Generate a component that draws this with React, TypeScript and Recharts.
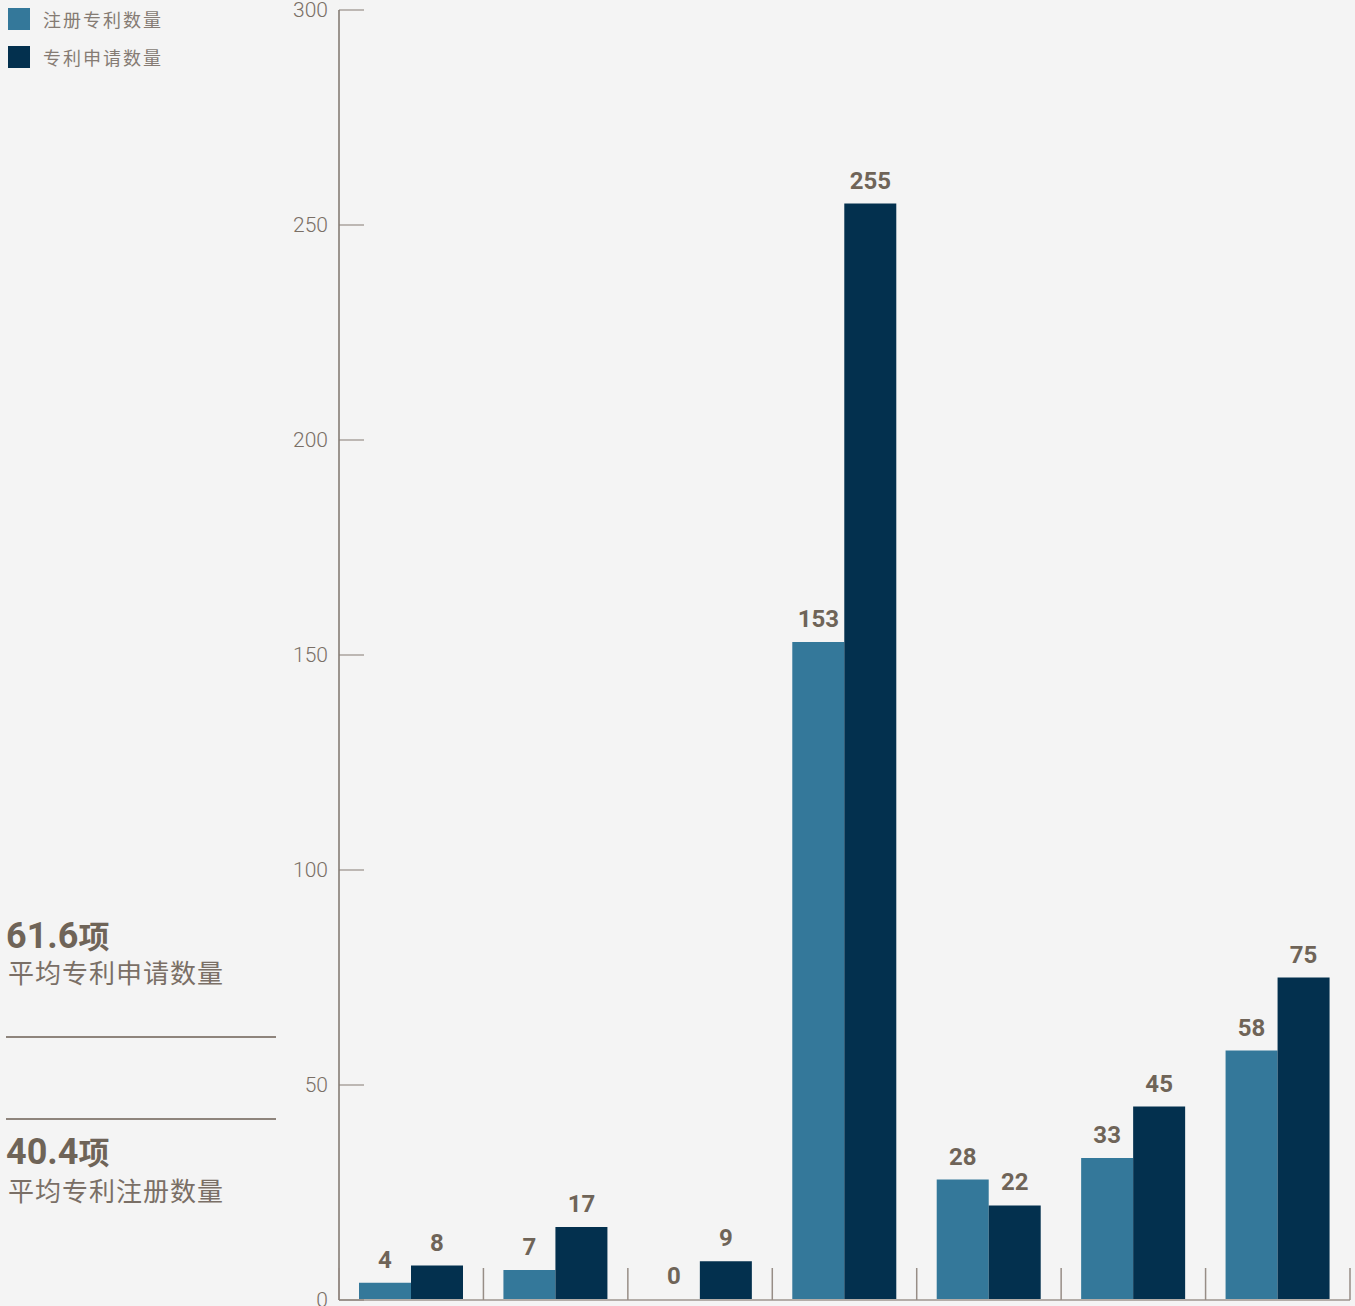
import { BarChart, Bar, XAxis, YAxis, LabelList } from 'recharts';

const categories = ['1', '2', '3', '4', '5', '6', '7'];
const registered = [4, 7, 0, 153, 28, 33, 58];
const applied = [8, 17, 9, 255, 22, 45, 75];
const yTicks = [0, 50, 100, 150, 200, 250, 300];

const seriesNames = { registered: '注册专利数量', applied: '专利申请数量' };
const avgApplied = '61.6';
const avgRegistered = '40.4';

const LIGHT = '#34789a';
const DARK = '#03304e';
const TEXT = '#6f6458';

const data = categories.map((c, i) => ({
  name: c,
  registered: registered[i],
  applied: applied[i],
}));

// y ticks drawn inside the plot (line goes right of the axis)
const YTick = (props: any) => {
  const { x, y, payload } = props;
  return (
    <g>
      <line x1={x} x2={x + 25} y1={y} y2={y} stroke="#857a72" strokeWidth={1} />
      <text x={x - 11} y={y} dy={7} textAnchor="end" fill="#7a6f66" fontSize={21} fontFamily="Roboto" fontWeight={300}>
        {payload.value}
      </text>
    </g>
  );
};

// category boundary ticks pointing up from the baseline
const renderXTick = (props: any) => {
  const { x, y, payload, index, visibleTicksCount } = props;
  const half = payload.offset || 72;
  return (
    <g key={`xt-${index}`}>
      <line x1={x - half} x2={x - half} y1={y} y2={y - 32} stroke="#978d86" strokeWidth={1.5} />
      {index === visibleTicksCount - 1 && (
        <line x1={x + half} x2={x + half} y1={y} y2={y - 32} stroke="#978d86" strokeWidth={1.5} />
      )}
    </g>
  );
};

const legendItem = (color: string, label: string, top: number) => (
  <div style={{ position: 'absolute', left: 8, top, display: 'flex', alignItems: 'center' }}>
    <div style={{ width: 22, height: 22, background: color }} />
    <span style={{ marginLeft: 13, fontSize: 18, lineHeight: '22px', color: '#857b73', fontFamily: '"Noto Sans CJK SC"', letterSpacing: 2 }}>
      {label}
    </span>
  </div>
);

export default function App() {
  return (
    <div style={{ position: 'absolute', left: 0, top: 0, width: 1355, height: 1306, background: '#f4f4f4', overflow: 'hidden' }}>
      <BarChart
        width={1355}
        height={1306}
        data={data}
        margin={{ top: 10, right: 5, left: 0, bottom: 5 }}
        barGap={0}
        barSize={52}
      >
        <XAxis
          dataKey="name"
          height={1}
          axisLine={{ stroke: '#b3ada8', strokeWidth: 2 }}
          tickLine={false}
          tickSize={0}
          tickMargin={0}
          tick={renderXTick}
          interval={0}
        />
        <YAxis
          width={339}
          domain={[0, 300]}
          ticks={yTicks}
          axisLine={{ stroke: '#7e746c', strokeWidth: 1.5 }}
          tickLine={false}
          tickSize={0}
          tickMargin={0}
          tick={<YTick />}
          interval={0}
        />
        <Bar dataKey="registered" fill={LIGHT} minPointSize={1} isAnimationActive={false}>
          <LabelList dataKey="registered" position="top" offset={15} fill={TEXT} fontSize={24} fontWeight={700} fontFamily="Roboto" />
        </Bar>
        <Bar dataKey="applied" fill={DARK} isAnimationActive={false}>
          <LabelList dataKey="applied" position="top" offset={15} fill={TEXT} fontSize={24} fontWeight={700} fontFamily="Roboto" />
        </Bar>
      </BarChart>

      {legendItem(LIGHT, seriesNames.registered, 8)}
      {legendItem(DARK, seriesNames.applied, 46)}

      <div style={{ position: 'absolute', left: 6, top: 912, color: TEXT, fontFamily: 'Roboto, "Noto Sans CJK SC"', fontWeight: 700, fontSize: 36, lineHeight: '46px' }}>
        {avgApplied}<span style={{ fontFamily: '"Noto Sans CJK SC"', fontSize: 31 }}>项</span>
      </div>
      <div style={{ position: 'absolute', left: 8, top: 954, color: '#7a6f66', fontFamily: '"Noto Sans CJK SC"', fontSize: 26, lineHeight: '36px', letterSpacing: 1 }}>
        平均专利申请数量
      </div>
      <div style={{ position: 'absolute', left: 6, top: 1036, width: 270, height: 2, background: '#8e847c' }} />
      <div style={{ position: 'absolute', left: 6, top: 1118, width: 270, height: 2, background: '#8e847c' }} />
      <div style={{ position: 'absolute', left: 6, top: 1128, color: TEXT, fontFamily: 'Roboto, "Noto Sans CJK SC"', fontWeight: 700, fontSize: 36, lineHeight: '46px' }}>
        {avgRegistered}<span style={{ fontFamily: '"Noto Sans CJK SC"', fontSize: 31 }}>项</span>
      </div>
      <div style={{ position: 'absolute', left: 8, top: 1172, color: '#7a6f66', fontFamily: '"Noto Sans CJK SC"', fontSize: 26, lineHeight: '36px', letterSpacing: 1 }}>
        平均专利注册数量
      </div>
    </div>
  );
}
